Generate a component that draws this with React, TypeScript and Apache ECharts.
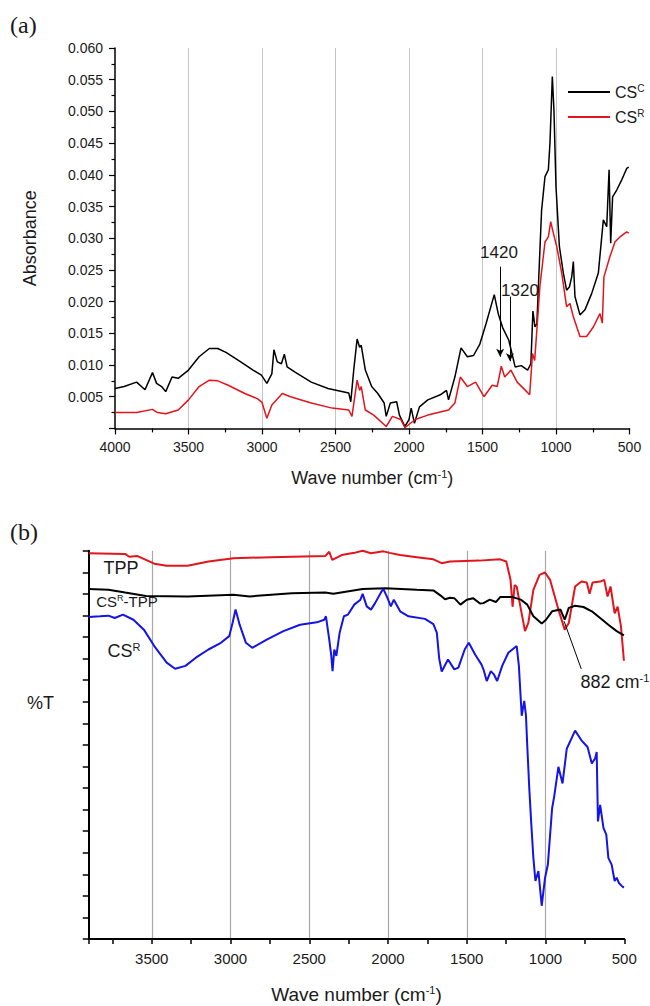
import React, { useEffect, useRef } from 'react';
import * as echarts from 'echarts';

// ---------- Panel (a): absorbance ----------
const csCWave = [
  4000, 3938, 3853, 3796, 3745, 3717, 3683, 3655, 3612, 3570,
  3500, 3428, 3358, 3301, 3245, 3145, 3061, 3004, 2967, 2933,
  2919, 2896, 2868, 2848, 2829, 2778, 2665, 2551, 2410, 2396,
  2376, 2353, 2336, 2325, 2297, 2254, 2212, 2169, 2155, 2127,
  2084, 2065, 2028, 2000, 1985, 1963, 1929, 1872, 1787, 1745,
  1731, 1688, 1646, 1603, 1561, 1518, 1476, 1420, 1392, 1363,
  1321, 1278, 1236, 1193, 1171, 1157, 1143, 1130, 1120, 1098,
  1075, 1052, 1041, 1025, 1014, 1000, 977, 950, 928, 909,
  893, 882, 871, 837, 803, 757, 712, 678, 655, 639,
  628, 615, 587, 553, 519, 505,
];
const csCAbs = [
  0.0063, 0.0066, 0.0073, 0.0061, 0.0088, 0.0071, 0.0066, 0.0058, 0.0081, 0.0079,
  0.0092, 0.0113, 0.0126, 0.0126, 0.0120, 0.0105, 0.0092, 0.0084, 0.0071, 0.0086,
  0.0124, 0.0105, 0.0102, 0.0117, 0.0097, 0.0089, 0.0073, 0.0063, 0.0056, 0.0042,
  0.0092, 0.0141, 0.0128, 0.0131, 0.0092, 0.0066, 0.0055, 0.0040, 0.0019, 0.0040,
  0.0042, 0.0021, 0.0003, 0.0014, 0.0032, 0.0008, 0.0034, 0.0045, 0.0053, 0.0060,
  0.0045, 0.0081, 0.0127, 0.0113, 0.0115, 0.0133, 0.0165, 0.0211, 0.0180, 0.0159,
  0.0139, 0.0097, 0.0099, 0.0092, 0.0102, 0.0185, 0.0160, 0.0165, 0.0223, 0.0344,
  0.0397, 0.0408, 0.0450, 0.0555, 0.0502, 0.0381, 0.0287, 0.0245, 0.0218, 0.0223,
  0.0239, 0.0263, 0.0208, 0.0179, 0.0187, 0.0213, 0.0245, 0.0329, 0.0318, 0.0408,
  0.0292, 0.0365, 0.0376, 0.0392, 0.0410, 0.0412,
];
const csRWave = [
  4000, 3853, 3745, 3711, 3655, 3570, 3500, 3428, 3358, 3301,
  3230, 3117, 3032, 3000, 2967, 2933, 2862, 2806, 2665, 2523,
  2410, 2388, 2353, 2336, 2325, 2297, 2240, 2155, 2113, 2056,
  2028, 1958, 1872, 1731, 1688, 1651, 1603, 1547, 1490, 1434,
  1400, 1372, 1349, 1307, 1264, 1208, 1179, 1160, 1145, 1109,
  1075, 1052, 1036, 1018, 995, 961, 928, 905, 882, 837,
  792, 746, 701, 685, 674, 633, 599, 565, 519, 505,
];
const csRAbs = [
  0.0025, 0.0025, 0.0030, 0.0025, 0.0023, 0.0029, 0.0045, 0.0066, 0.0076, 0.0075,
  0.0068, 0.0055, 0.0047, 0.0041, 0.0016, 0.0037, 0.0055, 0.0050, 0.0040, 0.0032,
  0.0029, 0.0019, 0.0076, 0.0060, 0.0066, 0.0029, 0.0021, 0.0003, 0.0019, 0.0014,
  0.0001, 0.0014, 0.0021, 0.0029, 0.0040, 0.0081, 0.0066, 0.0073, 0.0050, 0.0068,
  0.0066, 0.0098, 0.0081, 0.0092, 0.0073, 0.0060, 0.0053, 0.0118, 0.0107, 0.0225,
  0.0294, 0.0302, 0.0326, 0.0308, 0.0287, 0.0245, 0.0192, 0.0197, 0.0176, 0.0145,
  0.0145, 0.0160, 0.0181, 0.0166, 0.0239, 0.0271, 0.0294, 0.0302, 0.0310, 0.0308,
];
const absTicksA = { min: 0, max: 0.06, step: 0.005 };
const waveTicksA = { min: 500, max: 4000, step: 500 };

// ---------- Panel (b): %T (arbitrary units) ----------
const tppWave = [
  3900, 3669, 3643, 3590, 3484, 3405, 3272, 3140, 2981, 2743,
  2399, 2373, 2354, 2294, 2214, 2161, 2108, 2029, 1990, 1923,
  1817, 1712, 1659, 1606, 1421, 1288, 1249, 1222, 1209, 1196,
  1183, 1156, 1130, 1109, 1077, 1038, 1003, 971, 918, 878,
  852, 812, 772, 738, 720, 701, 653, 627, 606, 587,
  561, 542, 521, 502,
];
const tppT = [
  17.88, 17.85, 17.72, 17.75, 17.4, 17.3, 17.3, 17.5, 17.65, 17.7,
  17.75, 17.95, 17.57, 17.8, 17.9, 18.0, 17.88, 17.97, 17.9, 17.8,
  17.7, 17.6, 17.42, 17.5, 17.54, 17.6, 17.5, 16.65, 15.4, 16.4,
  16.34, 15.27, 14.27, 14.65, 16.18, 16.88, 16.99, 16.65, 15.27, 14.34,
  14.65, 16.34, 16.57, 16.53, 16.0, 16.53, 16.57, 16.65, 15.88, 16.34,
  15.1, 15.4, 14.5, 12.9,
];
const csrTppWave = [
  3900, 3775, 3669, 3537, 3272, 2981, 2878, 2611, 2399, 2347,
  2161, 2016, 1817, 1712, 1659, 1638, 1606, 1579, 1540, 1500,
  1460, 1416, 1394, 1354, 1315, 1288, 1209, 1156, 1116, 1077,
  1024, 997, 958, 905, 878, 852, 812, 759, 706, 653,
  601, 548, 502,
];
const csrTppT = [
  16.22, 16.19, 16.06, 15.9, 15.88, 15.96, 15.88, 16.03, 16.06, 16.0,
  16.22, 16.26, 16.19, 16.16, 15.88, 15.75, 15.82, 15.8, 15.5, 15.73,
  15.8, 15.55, 15.57, 15.73, 15.62, 15.85, 15.85, 15.73, 15.5, 14.96,
  14.62, 14.8, 15.19, 15.27, 14.8, 15.35, 15.45, 15.39, 15.19, 14.88,
  14.57, 14.27, 14.07,
];
const csrWave = [
  3900, 3828, 3775, 3735, 3683, 3616, 3550, 3484, 3405, 3352,
  3286, 3220, 3140, 3061, 3008, 2987, 2968, 2942, 2902, 2862,
  2770, 2664, 2558, 2452, 2405, 2394, 2373, 2360, 2352, 2341,
  2328, 2307, 2280, 2254, 2214, 2175, 2161, 2135, 2108, 2082,
  2042, 2029, 2003, 1982, 1963, 1923, 1870, 1765, 1712, 1690,
  1675, 1659, 1619, 1579, 1553, 1513, 1487, 1447, 1407, 1394,
  1373, 1347, 1328, 1307, 1275, 1236, 1183, 1169, 1151, 1135,
  1124, 1116, 1103, 1090, 1077, 1064, 1045, 1024, 1003, 985,
  958, 945, 918, 892, 865, 812, 772, 733, 706, 685,
  675, 667, 653, 632, 614, 601, 580, 561, 548, 535,
  516, 502,
];
const csrT = [
  14.93, 14.96, 14.99, 14.88, 15.04, 14.8, 14.34, 13.58, 12.81, 12.53,
  12.66, 13.04, 13.42, 13.73, 14.04, 14.65, 15.27, 14.57, 13.73, 13.5,
  13.88, 14.27, 14.57, 14.68, 14.8, 14.96, 13.88, 13.12, 12.42, 13.42,
  13.12, 14.2, 14.96, 15.04, 15.5, 15.73, 16.0, 15.42, 15.27, 15.57,
  16.1, 16.22, 15.8, 15.42, 15.73, 15.19, 14.96, 14.84, 14.6, 14.2,
  13.0, 12.4, 12.96, 12.5, 12.58, 13.42, 13.73, 13.19, 12.73, 12.5,
  11.96, 12.42, 12.27, 11.96, 12.66, 13.27, 13.58, 12.66, 10.35, 11.04,
  10.35, 9.0, 6.98, 5.3, 3.76, 2.69, 3.15, 1.54, 2.83, 3.45,
  6.06, 6.6, 7.98, 7.21, 8.82, 9.66, 9.21, 8.9, 8.14, 8.37,
  8.67, 5.45, 6.22, 5.15, 4.84, 3.76, 3.45, 2.69, 2.84, 2.61,
  2.46, 2.38,
];
const waveTicksB = { min: 500, max: 3900, step: 500, minorStep: 250 };
const tTicksB = { min: 0, max: 18, step: 1 };

// annotation anchors (data coordinates)
const arrow1420 = [[1380, 0.0255], [1380, 0.0113]];
const arrow1320 = [[1313, 0.0208], [1313, 0.0106]];
const label1420 = [1388, 0.0278];
const label1320 = [1245, 0.0218];
const leader882 = [[882, 14.73], [773, 12.52]];
const labelTPP = [3695, 17.2];
const labelCsrTpp = [3657, 15.64];
const labelCsr = [3676, 13.34];
const label882 = [559, 11.91];

const zip = (xs: number[], ys: number[]) => xs.map((x, i) => [x, ys[i]]);

const F = '"Liberation Sans", Arial, Helvetica, sans-serif';
const INK = '#1a1a1a';
const RED = '#e3141c';
const BLUE = '#1414e6';

const supRich = (base: number, sup: number) => ({
  sup: { fontSize: sup, fontFamily: F, color: INK, verticalAlign: 'top', lineHeight: sup },
  b: { fontSize: base, fontFamily: F, color: INK, lineHeight: base + 2 },
});

const textPoint = (coord: number[], text: string, size: number, sup: number, align = 'center') => ({
  coord,
  name: text,
  symbol: 'rect',
  symbolSize: 1,
  itemStyle: { color: 'rgba(0,0,0,0)' },
  label: {
    show: true,
    position: 'inside',
    align,
    formatter: text,
    fontFamily: F,
    fontSize: size,
    lineHeight: size + 2,
    color: INK,
    rich: supRich(size, sup),
  },
});

export default function App() {
  const ref = useRef<HTMLDivElement>(null);

  useEffect(() => {
    document.body.style.margin = '0';
    const chart = echarts.init(ref.current!, null, { renderer: 'svg' });

    const axisLineA = { show: true, lineStyle: { color: '#000', width: 1.5 } };
    const axisLineB = { show: true, lineStyle: { color: '#000', width: 2 } };

    const option: any = {
      animation: false,
      backgroundColor: '#fff',
      textStyle: { fontFamily: F },
      grid: [
        { left: 115, top: 48, width: 514.5, height: 380.4 },
        { left: 88.75, top: 550.7, width: 535.5, height: 391 },
      ],
      legend: {
        data: ['CSC', 'CSR'],
        orient: 'vertical',
        left: 563,
        top: 78,
        icon: 'rect',
        itemWidth: 42,
        itemHeight: 2,
        itemGap: 7,
        formatter: (n: string) => (n === 'CSC' ? 'CS{sup|C}' : 'CS{sup|R}'),
        textStyle: { fontFamily: F, fontSize: 16, lineHeight: 18, color: INK, rich: supRich(16, 10) },
      },
      xAxis: [
        {
          gridIndex: 0,
          type: 'value',
          min: waveTicksA.min,
          max: waveTicksA.max,
          interval: waveTicksA.step,
          inverse: true,
          axisLine: axisLineA,
          axisTick: { show: true, inside: false, length: 6, lineStyle: { color: '#000', width: 1.2 } },
          minorTick: { show: true, splitNumber: 2, length: 4, lineStyle: { color: '#000', width: 1.2 } },
          axisLabel: { fontFamily: F, fontSize: 14, color: INK, margin: 12, formatter: (v: number) => String(v) },
          splitLine: { show: true, showMinLine: false, showMaxLine: false, lineStyle: { color: '#c4c4c4', width: 1 } },
          name: 'Wave number (cm{sup|-1})',
          nameLocation: 'middle',
          nameGap: 40,
          nameTextStyle: { fontFamily: F, fontSize: 18, lineHeight: 20, color: INK, rich: supRich(18, 11) },
        },
        {
          gridIndex: 1,
          type: 'value',
          min: waveTicksB.min,
          max: waveTicksB.max,
          interval: waveTicksB.step,
          inverse: true,
          position: 'bottom',
          axisLine: axisLineB,
          axisTick: { show: false },
          axisLabel: {
            fontFamily: F,
            fontSize: 15,
            color: INK,
            margin: 12,
            formatter: (v: number) => (v % 500 === 0 ? String(v) : ''),
          },
          splitLine: { show: true, showMinLine: false, showMaxLine: false, lineStyle: { color: '#a8a8a8', width: 1.2 } },
          name: 'Wave number (cm{sup|-1})',
          nameLocation: 'middle',
          nameGap: 45,
          nameTextStyle: { fontFamily: F, fontSize: 19, lineHeight: 21, color: INK, rich: supRich(19, 11) },
        },
        {
          gridIndex: 1,
          type: 'value',
          min: waveTicksB.min,
          max: waveTicksB.max,
          interval: waveTicksB.minorStep,
          inverse: true,
          position: 'bottom',
          axisLine: { show: false },
          axisTick: { show: true, length: 5, lineStyle: { color: '#000', width: 1.5 } },
          axisLabel: { show: false },
          splitLine: { show: false },
        },
      ],
      yAxis: [
        {
          gridIndex: 0,
          type: 'value',
          min: absTicksA.min,
          max: absTicksA.max,
          interval: absTicksA.step,
          axisLine: axisLineA,
          axisTick: { show: true, length: 6, lineStyle: { color: '#000', width: 1.2 } },
          minorTick: { show: true, splitNumber: 2, length: 3.5, lineStyle: { color: '#000', width: 1.2 } },
          axisLabel: {
            fontFamily: F,
            fontSize: 14,
            color: INK,
            margin: 12,
            formatter: (v: number) => (v < 1e-9 ? '' : v.toFixed(3)),
          },
          splitLine: { show: false },
          name: 'Absorbance',
          nameLocation: 'middle',
          nameGap: 76,
          nameTextStyle: { fontFamily: F, fontSize: 18, color: INK },
        },
        {
          gridIndex: 1,
          type: 'value',
          min: tTicksB.min,
          max: tTicksB.max,
          interval: tTicksB.step,
          axisLine: axisLineB,
          axisTick: { show: true, length: 6, lineStyle: { color: '#000', width: 1.5 } },
          axisLabel: { show: false },
          splitLine: { show: false },
        },
      ],
      graphic: [
        { type: 'text', x: 10, y: 25, style: { text: '(a)', font: '24px "Liberation Serif", serif', fill: INK, verticalAlign: 'middle' } },
        { type: 'text', x: 10, y: 532, style: { text: '(b)', font: '24px "Liberation Serif", serif', fill: INK, verticalAlign: 'middle' } },
        { type: 'text', x: 27, y: 703, style: { text: '%T', font: `18px ${F}`, fill: INK, verticalAlign: 'middle' } },
      ],
      series: [
        {
          name: 'CSC',
          type: 'line',
          xAxisIndex: 0,
          yAxisIndex: 0,
          data: zip(csCWave, csCAbs),
          symbol: 'none',
          color: '#000',
          lineStyle: { color: '#000', width: 1.5 },
          markLine: {
            silent: true,
            symbol: ['none', 'arrow'],
            symbolSize: [6, 8],
            label: { show: false },
            lineStyle: { color: '#000', width: 1, type: 'solid' },
            data: [
              [{ coord: arrow1420[0] }, { coord: arrow1420[1] }],
              [{ coord: arrow1320[0] }, { coord: arrow1320[1] }],
            ],
          },
          markPoint: {
            silent: true,
            data: [textPoint(label1420, '1420', 17, 10), textPoint(label1320, '1320', 17, 10)],
          },
        },
        {
          name: 'CSR',
          type: 'line',
          xAxisIndex: 0,
          yAxisIndex: 0,
          data: zip(csRWave, csRAbs),
          symbol: 'none',
          color: RED,
          lineStyle: { color: RED, width: 1.5 },
        },
        {
          name: 'TPP',
          type: 'line',
          xAxisIndex: 1,
          yAxisIndex: 1,
          data: zip(tppWave, tppT),
          symbol: 'none',
          color: RED,
          lineStyle: { color: RED, width: 2 },
          markPoint: {
            silent: true,
            data: [
              textPoint(labelTPP, 'TPP', 18, 11),
              textPoint(labelCsrTpp, 'CS{sup|R}-TPP', 15, 9),
              textPoint(labelCsr, 'CS{sup|R}', 18, 11),
              textPoint(label882, '882 cm{sup|-1}', 18, 11),
            ],
          },
        },
        {
          name: 'CSR-TPP',
          type: 'line',
          xAxisIndex: 1,
          yAxisIndex: 1,
          data: zip(csrTppWave, csrTppT),
          symbol: 'none',
          color: '#000',
          lineStyle: { color: '#000', width: 2 },
          markLine: {
            silent: true,
            symbol: ['none', 'none'],
            label: { show: false },
            lineStyle: { color: '#000', width: 1, type: 'solid' },
            data: [[{ coord: leader882[0] }, { coord: leader882[1] }]],
          },
        },
        {
          name: 'CSR (b)',
          type: 'line',
          xAxisIndex: 1,
          yAxisIndex: 1,
          data: zip(csrWave, csrT),
          symbol: 'none',
          color: BLUE,
          lineStyle: { color: BLUE, width: 2 },
        },
      ],
    };

    chart.setOption(option);
    return () => chart.dispose();
  }, []);

  return <div ref={ref} style={{ width: 650, height: 1006 }} />;
}
